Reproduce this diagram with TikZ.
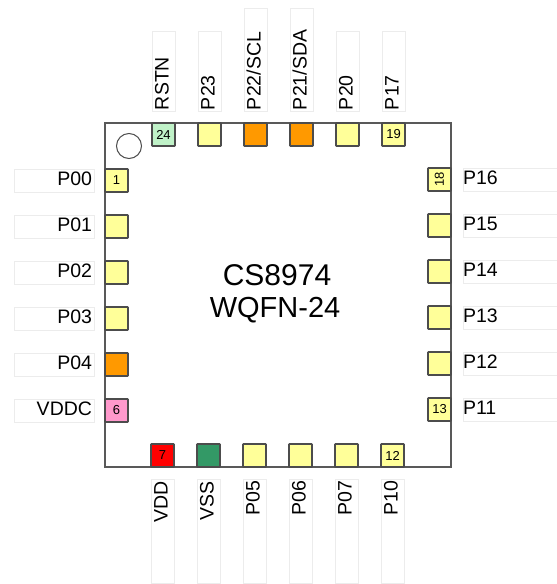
\documentclass[tikz,border=0pt]{standalone}
\usepackage{fontspec}
\setmainfont{Liberation Sans}
\usetikzlibrary{calc,positioning}
\definecolor{padyellow}{HTML}{FFFF99}
\definecolor{padorange}{HTML}{FF9900}
\definecolor{padlime}{HTML}{C0F2C8}
\definecolor{padgreen}{HTML}{339966}
\definecolor{padpink}{HTML}{FF99CC}
\tikzstyle{yp}=[rectangle,line width=1.6pt,minimum size=23pt,inner sep=0pt,outer sep=0pt,rounded corners=0.6pt,draw=black!70,fill=padyellow,font=\fontsize{13}{13}\selectfont]
\tikzstyle{op}=[yp,fill=padorange]
\tikzstyle{gp}=[yp,fill=padlime]
\tikzstyle{rp}=[yp,fill=red]
\tikzstyle{dp}=[yp,fill=padgreen]
\tikzstyle{kp}=[yp,fill=padpink]
\tikzset{
	lab/.style={rectangle,draw=gray!15,line width=0.9pt,inner xsep=2pt,inner ysep=0pt,outer sep=0pt,minimum height=23pt,font=\fontsize{19.5}{20}\selectfont,text height=13pt,text depth=3pt},
	labl/.style={lab,text width=76pt,align=right},
	labr/.style={lab,inner xsep=0pt,text width=94pt,align=left},
	labt/.style={lab,inner xsep=1pt,rotate=90,anchor=west,align=left},
	labb/.style={lab,rotate=90,anchor=east,text width=100pt,align=right},
	big/.style={inner sep=0pt}
}
\begin{document}
\begin{tikzpicture}[x=1pt,y=1pt]
    \useasboundingbox (0,0) rectangle (557,-584);
    \node (chip) [rectangle,line width=1.5pt,draw=black!65,minimum width=346pt,minimum height=344pt,outer sep=0pt] at (278,-295) {};
    \node (dot) [circle,draw=black!70,line width=1pt,minimum size=25pt,inner sep=0pt] at ($(chip.north west)+(24,-23)$) {};
    \node (title) [big,font=\fontsize{30}{30}\selectfont] at ($(chip.center)+(-1,20)$) {CS8974};
    \node (pkg) [big,font=\fontsize{29}{30}\selectfont] at ($(chip.center)+(-3,-15)$) {WQFN-24};

    % left side
    \node (pin1) [yp,anchor=north west] at ($(chip.north west)+(0,-46)$) {1};
    \node (pin2) [yp,below=23pt of pin1] {};
    \node (pin3) [yp,below=23pt of pin2] {};
    \node (pin4) [yp,below=23pt of pin3] {};
    \node (pin5) [op,below=23pt of pin4] {};
    \node (pin6) [kp,below=23pt of pin5] {6};
    % bottom side
    \node (pin7) [rp,anchor=south west] at ($(chip.south west)+(46,0)$) {7};
    \node (pin8) [dp,right=23pt of pin7] {};
    \node (pin9) [yp,right=23pt of pin8] {};
    \node (pin10) [yp,right=23pt of pin9] {};
    \node (pin11) [yp,right=23pt of pin10] {};
    \node (pin12) [yp,right=23pt of pin11] {12};
    % right side
    \node (pin13) [yp,anchor=south east] at ($(chip.south east)+(0,46)$) {13};
    \node (pin14) [yp,above=23pt of pin13] {};
    \node (pin15) [yp,above=23pt of pin14] {};
    \node (pin16) [yp,above=23pt of pin15] {};
    \node (pin17) [yp,above=23pt of pin16] {};
    \node (pin18) [yp,above=23pt of pin17] {};
    \node (num18) [rotate=90,font=\fontsize{13}{13}\selectfont,inner sep=0pt] at (pin18) {18};
    % top side
    \node (pin19) [yp,anchor=north east] at ($(chip.north east)+(-46,0)$) {19};
    \node (pin20) [yp,left=23pt of pin19] {};
    \node (pin21) [op,left=23pt of pin20] {};
    \node (pin22) [op,left=23pt of pin21] {};
    \node (pin23) [yp,left=23pt of pin22] {};
    \node (pin24) [gp,left=23pt of pin23] {24};

    \node (lab1) [labl,left=11pt of pin1] {P00};
    \node (lab2) [labl,left=11pt of pin2] {P01};
    \node (lab3) [labl,left=11pt of pin3] {P02};
    \node (lab4) [labl,left=11pt of pin4] {P03};
    \node (lab5) [labl,left=11pt of pin5] {P04};
    \node (lab6) [labl,left=11pt of pin6] {VDDC};

    \node (lab7) [labb,below=12pt of pin7,anchor=east] {VDD};
    \node (lab8) [labb,below=12pt of pin8,anchor=east] {VSS};
    \node (lab9) [labb,below=12pt of pin9,anchor=east] {P05};
    \node (lab10) [labb,below=12pt of pin10,anchor=east] {P06};
    \node (lab11) [labb,below=12pt of pin11,anchor=east] {P07};
    \node (lab12) [labb,below=12pt of pin12,anchor=east] {P10};

    \node (lab13) [labr,right=12pt of pin13] {P11};
    \node (lab14) [labr,right=12pt of pin14] {P12};
    \node (lab15) [labr,right=12pt of pin15] {P13};
    \node (lab16) [labr,right=12pt of pin16] {P14};
    \node (lab17) [labr,right=12pt of pin17] {P15};
    \node (lab18) [labr,right=12pt of pin18] {P16};

    \node (lab19) [labt,text width=78pt,above=12pt of pin19,anchor=west] {P17};
    \node (lab20) [labt,text width=78pt,above=12pt of pin20,anchor=west] {P20};
    \node (lab21) [labt,text width=101pt,above=12pt of pin21,anchor=west] {P21/SDA};
    \node (lab22) [labt,text width=101pt,above=12pt of pin22,anchor=west] {P22/SCL};
    \node (lab23) [labt,text width=78pt,above=12pt of pin23,anchor=west] {P23};
    \node (lab24) [labt,text width=78pt,above=12pt of pin24,anchor=west] {RSTN};
\end{tikzpicture}
\end{document}
